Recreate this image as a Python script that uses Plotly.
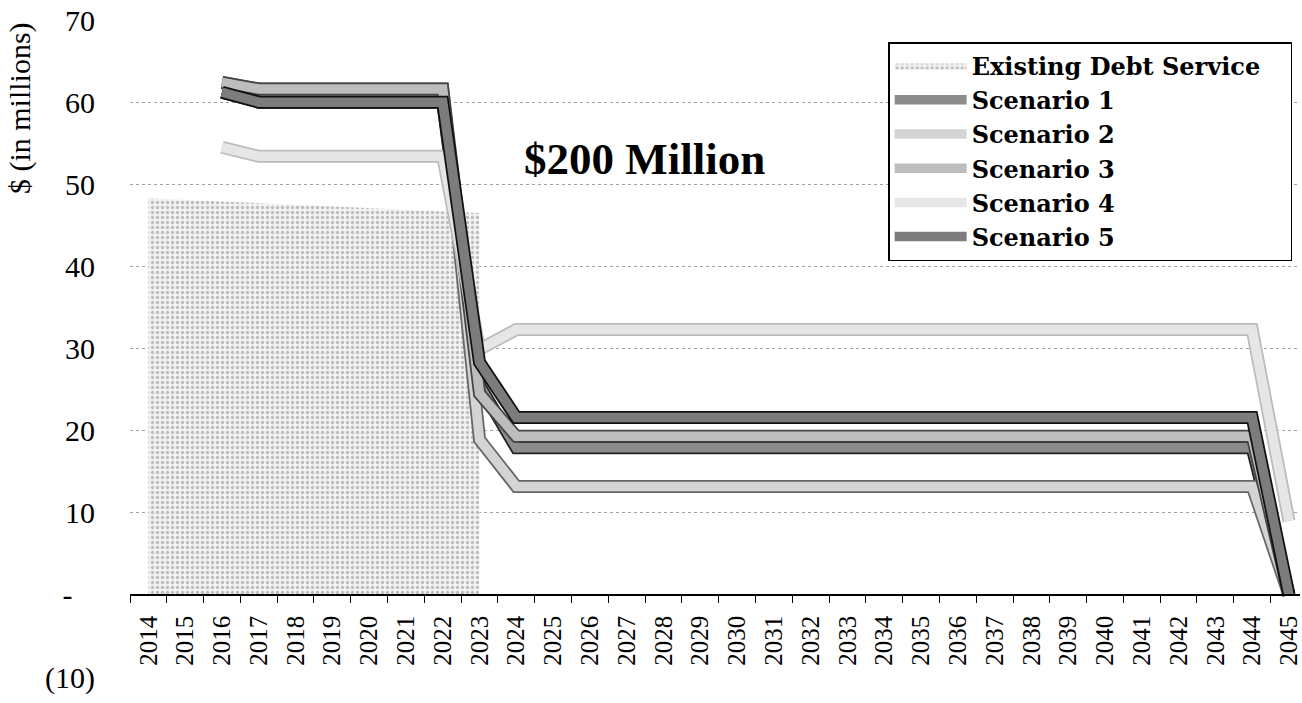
import plotly.graph_objects as go

years = [str(y) for y in range(2014, 2046)]

existing = [48.3, 48.1, 47.9, 47.7, 47.5, 47.3, 47.1, 46.9, 46.7, 46.5] + [None] * 22

def flat(v, n):
    return [v] * n

scen1 = [None, None, 61.2] + flat(60.0, 6) + [25.5] + flat(17.9, 21) + [0.0]
scen2 = [None, None, 62.4] + flat(61.6, 6) + [18.9] + flat(13.2, 21) + [0.0]
scen3 = [None, None, 62.4] + flat(61.6, 6) + [24.5] + flat(19.3, 21) + [0.0]
scen4 = [None, None, 54.5] + flat(53.4, 6) + [29.9] + flat(32.3, 21) + [9.0]
scen5 = [None, None, 61.2] + flat(60.0, 6) + [28.3] + flat(21.6, 21) + [0.0]

y_ticks = [-10, 0, 10, 20, 30, 40, 50, 60, 70]
y_ticktext = ["(10)", "-\u00a0\u00a0\u00a0", "10", "20", "30", "40", "50", "60", "70"]

series = [
    ("Scenario 1", scen1, "#8c8c8c", "#222222"),
    ("Scenario 2", scen2, "#d4d4d4", "#666666"),
    ("Scenario 3", scen3, "#bdbdbd", "#444444"),
    ("Scenario 4", scen4, "#e6e6e6", "#bbbbbb"),
    ("Scenario 5", scen5, "#7c7c7c", "#111111"),
]

SERIF = "Liberation Serif"

fig = go.Figure()

fig.add_trace(go.Scatter(
    x=years, y=existing, name="Existing Debt Service\u00a0\u00a0\u00a0", mode="lines",
    line=dict(width=0, color="rgba(0,0,0,0)"),
    fill="tozeroy", fillcolor="rgba(235,235,235,0.6)",
    fillpattern=dict(shape=".", fgcolor="#8a8a8a", bgcolor="#f2f2f2", size=5, solidity=0.35),
    legendgroup="g0",
))

for i, (name, vals, col, edge) in enumerate(series):
    fig.add_trace(go.Scatter(
        x=years, y=vals, mode="lines", showlegend=False, hoverinfo="skip",
        line=dict(width=13, color=edge), legendgroup=f"g{i+1}",
    ))
    fig.add_trace(go.Scatter(
        x=years, y=vals, mode="lines", name=name,
        line=dict(width=9.5, color=col), legendgroup=f"g{i+1}",
    ))

fig.add_annotation(
    text="<b>$200 Million</b>", xref="paper", yref="paper",
    x=0.440, y=0.788, xanchor="center", yanchor="middle", showarrow=False,
    font=dict(family=SERIF, size=45, color="black"),
)
fig.add_annotation(
    text="$ (in millions)", xref="paper", yref="paper",
    x=-0.094, y=0.866, xanchor="center", yanchor="middle",
    showarrow=False, textangle=-90,
    font=dict(family=SERIF, size=30, color="black"),
)

fig.update_layout(
    width=1302, height=703,
    margin=dict(l=130, r=0, t=20, b=26),
    paper_bgcolor="white", plot_bgcolor="white",
    font=dict(family=SERIF, color="black"),
    legend=dict(
        x=0.648, y=0.9665, xanchor="left", yanchor="top",
        bgcolor="white", bordercolor="black", borderwidth=1.5,
        font=dict(family="DejaVu Serif", size=24, color="black", weight="bold"),
        itemwidth=72, tracegroupgap=0, traceorder="grouped",
    ),
    xaxis=dict(
        type="category", range=[-0.5, 31.3],
        anchor="free", position=0.125,
        showline=True, linecolor="black", linewidth=1.5,
        ticks="outside", ticklen=7, tickcolor="black", tickson="boundaries",
        tickangle=-90, tickfont=dict(family=SERIF, size=25, color="black"),
        ticklabelstandoff=10,
        showgrid=False, zeroline=False,
    ),
    yaxis=dict(
        range=[-10, 70], tickvals=y_ticks, ticktext=y_ticktext,
        showgrid=True, gridcolor="#a0a0a0", griddash="dot", gridwidth=1,
        zeroline=False, showline=False, ticks="",
        tickfont=dict(family=SERIF, size=30, color="black"),
        ticklabelstandoff=34,
    ),
)

fig.write_html("out.html")
